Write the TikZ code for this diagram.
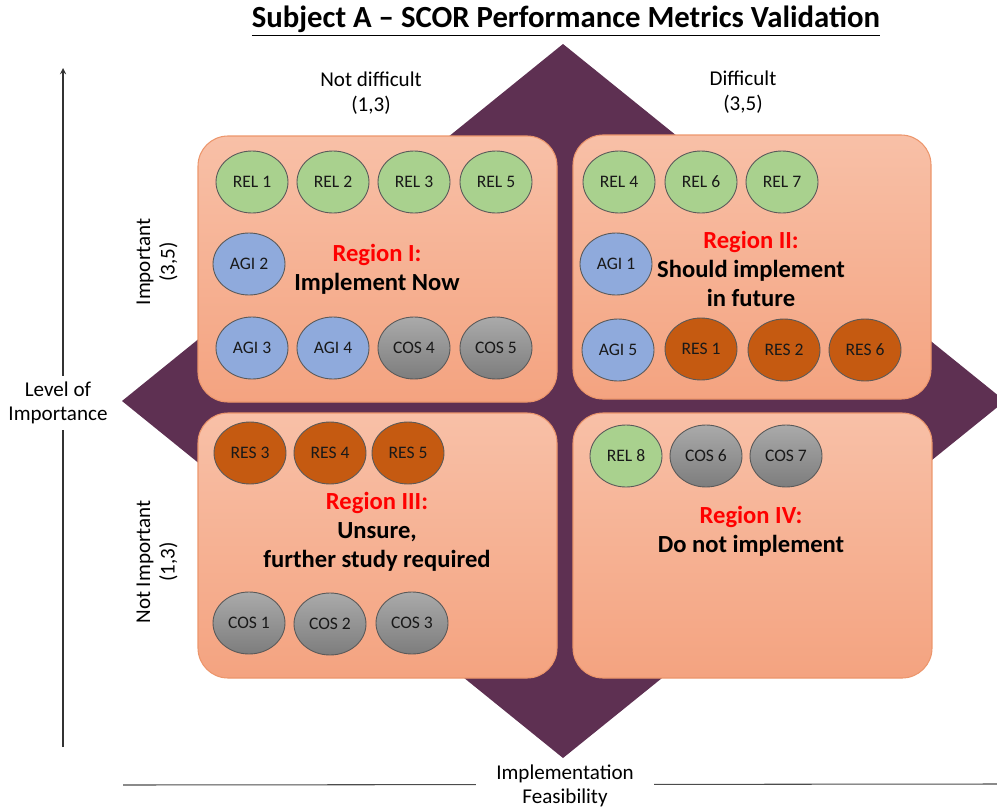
\documentclass[tikz,border=0pt]{standalone}
\usepackage{fontspec}
\setmainfont{Carlito}
\usetikzlibrary{shapes.geometric}

\definecolor{diamondc}{RGB}{94,48,82}
\definecolor{boxtop}{RGB}{248,192,167}
\definecolor{boxbot}{RGB}{244,163,128}
\definecolor{boxline}{RGB}{236,150,108}
\definecolor{relgreen}{RGB}{169,209,142}
\definecolor{agiblue}{RGB}{143,170,220}
\definecolor{resbrown}{RGB}{197,90,17}
\definecolor{costop}{RGB}{170,170,170}
\definecolor{cosbot}{RGB}{125,125,125}
\definecolor{regred}{RGB}{255,0,0}

\tikzset{
    regionbox/.style={draw=boxline,line width=0.6pt,rounded corners=0.6cm,top color=boxtop,bottom color=boxbot},
    metric/.style={ellipse,draw=black!65,line width=0.5pt,minimum width=1.44cm,minimum height=1.24cm,inner sep=0pt,text=black!90,font=\fontsize{10}{12}\selectfont},
    relc/.style={metric,fill=relgreen},
    agic/.style={metric,fill=agiblue},
    resc/.style={metric,fill=resbrown},
    cosc/.style={metric,top color=costop,bottom color=cosbot},
    regiontxt/.style={align=center,font=\fontsize{14}{16.5}\selectfont\bfseries},
    axistxt/.style={align=center,font=\fontsize{12}{14}\selectfont}
}

\begin{document}
\begin{tikzpicture}[x=0.02cm,y=-0.02cm]

                \useasboundingbox (0,0) rectangle (997,808);

                \begin{scope}
                    \clip (0,0) rectangle (997,808);
                    \fill [diamondc] (563,44)--(1005,401)--(563,758)--(122,401)--cycle;
                \end{scope}

                \draw [regionbox] (198,136) rectangle (557,402);
                \draw [regionbox] (573,135) rectangle (931,399);
                \draw [regionbox] (198,413) rectangle (557,678);
                \draw [regionbox] (573,413) rectangle (932,678);

                \node [relc] (rel1) at (252,182) {REL 1};
                \node [relc] (rel2) at (333,182) {REL 2};
                \node [relc] (rel3) at (414,182) {REL 3};
                \node [relc] (rel5) at (496,182) {REL 5};
                \node [agic] (agi2) at (249,264) {AGI 2};
                \node [agic] (agi3) at (252,348) {AGI 3};
                \node [agic] (agi4) at (333,348) {AGI 4};
                \node [cosc] (cos4) at (414,348) {COS 4};
                \node [cosc] (cos5) at (496,348) {COS 5};

                \node [relc] (rel4) at (619,182) {REL 4};
                \node [relc] (rel6) at (701,182) {REL 6};
                \node [relc] (rel7) at (782,182) {REL 7};
                \node [agic] (agi1) at (616,264) {AGI 1};
                \node [agic] (agi5) at (618,350) {AGI 5};
                \node [resc] (res1) at (701,349) {RES 1};
                \node [resc] (res2) at (784,350) {RES 2};
                \node [resc] (res6) at (865,350) {RES 6};

                \node [resc] (res3) at (250,453) {RES 3};
                \node [resc] (res4) at (330,453) {RES 4};
                \node [resc] (res5) at (408,453) {RES 5};
                \node [cosc] (cos1) at (249,623) {COS 1};
                \node [cosc] (cos2) at (330,624) {COS 2};
                \node [cosc] (cos3) at (412,623) {COS 3};

                \node [relc] (rel8) at (626,456) {REL 8};
                \node [cosc] (cos6) at (706,456) {COS 6};
                \node [cosc] (cos7) at (786,456) {COS 7};

                \node [regiontxt] (txtI) at (377,269) {\textcolor{regred}{Region I:}\\Implement Now};
                \node [regiontxt] (txtII) at (751,269) {\textcolor{regred}{Region II:}\\Should implement\\in future};
                \node [regiontxt] (txtIII) at (377,532) {\textcolor{regred}{Region III:}\\Unsure,\\further study required};
                \node [regiontxt] (txtIV) at (751,531) {\textcolor{regred}{Region IV:}\\Do not implement};

                \node [font=\fontsize{17.5}{20}\selectfont\bfseries] (title) at (566,21) {\underline{Subject A -- SCOR Performance Metrics Validation}};

                \node [axistxt] (notdiff) at (371,93) {Not difficult\\(1,3)};
                \node [axistxt] (diff) at (743,92) {Difficult\\(3,5)};
                \node [axistxt,rotate=90] (imp) at (157,262) {Important\\(3,5)};
                \node [axistxt,rotate=90] (notimp) at (157,562) {Not Important\\(1,3)};

                \coordinate (ybot) at (63,747);
                \coordinate (ytop) at (63,68);
                \coordinate (xleft) at (123,785);
                \coordinate (xright) at (997,784);
                \draw [->,-stealth,line width=0.6pt,black!80] (ybot)--(ytop);
                \draw [line width=0.6pt,black!70] (xleft)--(xright);
                \node [axistxt,fill=white,inner sep=3pt] (yaxis) at (58,403) {Level of\\Importance};
                \node [axistxt,fill=white,inner xsep=0.4cm,inner ysep=2pt] (xaxis) at (565,786) {Implementation\\Feasibility};
\end{tikzpicture}
\end{document}
